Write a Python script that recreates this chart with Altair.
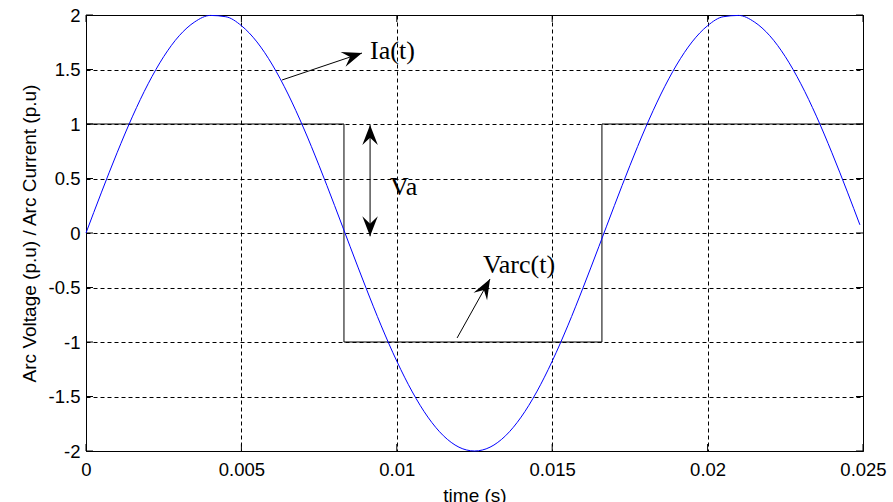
import math
import altair as alt
import pandas as pd

# Arc current Ia(t), sampled every 0.5 ms
time_s = [0.0, 0.0005, 0.001, 0.0015, 0.002, 0.0025, 0.003, 0.0035, 0.004, 0.0045,
          0.005, 0.0055, 0.006, 0.0065, 0.007, 0.0075, 0.008, 0.0085, 0.009, 0.0095,
          0.010, 0.0105, 0.011, 0.0115, 0.012, 0.0125, 0.013, 0.0135, 0.014, 0.0145,
          0.015, 0.0155, 0.016, 0.0165, 0.017, 0.0175, 0.018, 0.0185, 0.019, 0.0195,
          0.020, 0.0205, 0.021, 0.0215, 0.022, 0.0225, 0.023, 0.0235, 0.024, 0.0245,
          0.0249]
current_pu = [0.0, 0.375, 0.736, 1.072, 1.369, 1.618, 1.810, 1.937, 1.996, 1.984,
              1.902, 1.753, 1.541, 1.275, 0.964, 0.618, 0.251, -0.126, -0.497, -0.852,
              -1.176, -1.458, -1.689, -1.860, -1.965, -2.0, -1.965, -1.860, -1.689, -1.458,
              -1.176, -0.852, -0.497, -0.126, 0.251, 0.618, 0.964, 1.275, 1.541, 1.753,
              1.902, 1.984, 1.996, 1.937, 1.810, 1.618, 1.369, 1.072, 0.736, 0.375,
              0.075]

# Arc voltage Varc(t): square wave
varc_time = [0.0, 0.0083, 0.0083, 0.0166, 0.0166, 0.025]
varc_pu = [1, 1, -1, -1, 1, 1]

x_ticks = [0, 0.005, 0.01, 0.015, 0.02, 0.025]
y_ticks = [-2, -1.5, -1, -0.5, 0, 0.5, 1, 1.5, 2]

# Annotation texts and their anchor points (data units)
note_text = ["Ia(t)", "Va", "Varc(t)"]
note_time = [0.00914, 0.00978, 0.01277]
note_value = [1.60, 0.35, -0.37]

# Arrows: tail -> head
arrow_id = ["ia", "va", "varc"]
arrow_t1 = [0.00631, 0.00914, 0.01194]
arrow_v1 = [1.404, -0.03, -0.963]
arrow_t2 = [0.00888, 0.00914, 0.0130]
arrow_v2 = [1.651, 0.99, -0.422]
double_headed = [False, True, False]

W, H = 777, 436
X_DOMAIN = [0, 0.025]
Y_DOMAIN = [-2, 2]


def px_angle(t1, v1, t2, v2):
    dx = (t2 - t1) * W / (X_DOMAIN[1] - X_DOMAIN[0])
    dy = -(v2 - v1) * H / (Y_DOMAIN[1] - Y_DOMAIN[0])
    return math.degrees(math.atan2(dx, -dy)) % 360


sine_df = pd.DataFrame({"t": time_s, "v": current_pu})
sq_df = pd.DataFrame({"t": varc_time, "v": varc_pu, "i": range(len(varc_time))})
note_df = pd.DataFrame({"t": note_time, "v": note_value, "label": note_text})
arrow_df = pd.DataFrame({"id": arrow_id, "t": arrow_t1, "v": arrow_v1,
                         "t2": arrow_t2, "v2": arrow_v2})

heads = []
for a, t1, v1, t2, v2, dbl in zip(arrow_id, arrow_t1, arrow_v1, arrow_t2, arrow_v2, double_headed):
    heads.append({"t": t2, "v": v2, "ang": px_angle(t1, v1, t2, v2)})
    if dbl:
        heads.append({"t": t1, "v": v1, "ang": px_angle(t2, v2, t1, v1)})
head_df = pd.DataFrame(heads)

FONT = "Liberation Sans"
xs = alt.Scale(domain=X_DOMAIN, nice=False, zero=False)
ys = alt.Scale(domain=Y_DOMAIN, nice=False, zero=False)

x_axis = alt.Axis(values=x_ticks, labelExpr="'' + datum.value", title="time (s)",
                  grid=True, gridDash=[4, 3], gridColor="black", gridOpacity=1,
                  ticks=False, domain=False, labelPadding=9, titlePadding=8,
                  labelFontSize=18.5, titleFontSize=19, labelFont=FONT, titleFont=FONT,
                  labelColor="black", titleColor="black", titleFontWeight="normal",
                  labelFlush=False)
y_axis = alt.Axis(values=y_ticks, labelExpr="'' + datum.value",
                  title="Arc Voltage (p.u) / Arc Current (p.u)",
                  grid=True, gridDash=[4, 3], gridColor="black", gridOpacity=1,
                  ticks=False, domain=False, labelPadding=6, titlePadding=9,
                  labelFontSize=18.5, titleFontSize=19, labelFont=FONT, titleFont=FONT,
                  labelColor="black", titleColor="black", titleFontWeight="normal",
                  labelFlush=False, titleLimit=600)


def X(field="t"):
    return alt.X(f"{field}:Q", scale=xs, axis=x_axis)


def Y(field="v"):
    return alt.Y(f"{field}:Q", scale=ys, axis=y_axis)


current = alt.Chart(sine_df).mark_line(
    color="#0000ff", strokeWidth=1, interpolate="monotone"
).encode(x=X(), y=Y())

voltage = alt.Chart(sq_df).mark_line(color="black", strokeWidth=1).encode(
    x=X(), y=Y(), order="i:Q")

arrows = alt.Chart(arrow_df).mark_rule(color="black", strokeWidth=1).encode(
    x=X(), y=Y(), x2="t2:Q", y2="v2:Q")

# barbed arrowhead, tip at the symbol origin, pointing up before rotation
ARROW_PATH = "M0,0L0.68,1.75L0,1.1L-0.68,1.75Z"
arrow_heads = alt.Chart(head_df).mark_point(
    shape=ARROW_PATH, filled=True, color="black", opacity=1, size=520, strokeWidth=0
).encode(x=X(), y=Y(), angle=alt.Angle("ang:Q", scale=None))

notes = alt.Chart(note_df).mark_text(
    font="Liberation Serif", fontSize=26, align="left", baseline="alphabetic", color="black"
).encode(x=X(), y=Y(), text="label:N")

# inward tick marks on all four sides of the frame
tick_len = 7
xt = pd.DataFrame({"t": x_ticks})
yt = pd.DataFrame({"v": y_ticks})
tick_bottom = alt.Chart(xt).mark_rule(color="black").encode(
    x=X(), y=alt.value(H), y2=alt.value(H - tick_len))
tick_top = alt.Chart(xt).mark_rule(color="black").encode(
    x=X(), y=alt.value(0), y2=alt.value(tick_len))
tick_left = alt.Chart(yt).mark_rule(color="black").encode(
    y=Y(), x=alt.value(0), x2=alt.value(tick_len))
tick_right = alt.Chart(yt).mark_rule(color="black").encode(
    y=Y(), x=alt.value(W - tick_len), x2=alt.value(W))

chart = alt.layer(
    tick_bottom, tick_top, tick_left, tick_right,
    voltage, current, arrows, arrow_heads, notes
).properties(
    width=W, height=H,
    autosize=alt.AutoSizeParams(type="none"),
    padding={"left": 86, "top": 15, "right": 30, "bottom": 51},
    background="white",
).configure_view(stroke="black", strokeWidth=1)

chart.save("out.html", embed_options={"renderer": "svg", "actions": False})
